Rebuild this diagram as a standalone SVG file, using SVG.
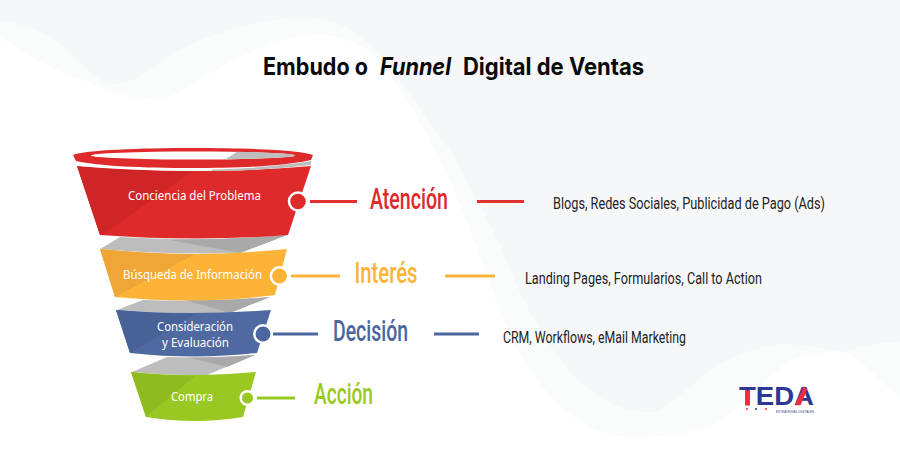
<svg xmlns="http://www.w3.org/2000/svg" width="900" height="450" viewBox="0 0 900 450">
<style>
.st{font-family:"Noto Sans","Open Sans",sans-serif;fill:#fff;font-size:12px}
.hd{font-family:"Roboto","Liberation Sans",sans-serif;font-weight:500;font-size:29px}
.ds{font-family:"Roboto","Liberation Sans",sans-serif;font-size:16px;fill:#222}
.tt{font-family:"Inter","Noto Sans",sans-serif;font-size:24px;font-weight:700;fill:#0a0a0a}
.gr{fill:#bdbdbd}.gd{fill:#a9a9a9}
.ln{stroke-width:3;fill:none}
.ring{stroke:#fff;stroke-width:2.500}
</style>
<rect width="900" height="450" fill="#f6f7f9"/>
<path fill="#fafbfb" d="M0 22C25 22 50 35 67 50C85 68 100 84 117 84C135 84 150 68 167 57C190 42 250 18 300 18C330 18 350 25 367 42C390 62 420 110 450 150C470 185 490 225 500 245C515 285 530 315 550 345C575 385 610 412 650 412C670 412 700 370 733 358C750 350 770 344 783 344C805 344 825 350 843 352C860 346 880 342 900 342V450H0Z"/>
<path fill="#fff" d="M0 37C20 50 50 70 83 80C110 92 130 99 150 99C170 99 185 90 200 80C225 62 280 35 317 35C340 35 355 42 367 50C390 65 420 120 450 180C460 205 468 225 478 250C490 285 510 345 533 375C560 410 590 437 633 437C670 437 700 432 717 422C745 405 765 380 783 365C800 355 825 350 843 352C865 362 880 380 900 398V450H0Z"/>
<g id="title">
<text class="tt" x="263" y="75" textLength="105" lengthAdjust="spacingAndGlyphs">Embudo o</text>
<text class="tt" x="380" y="75" font-style="italic" font-weight="600" textLength="71" lengthAdjust="spacingAndGlyphs">Funnel</text>
<text class="tt" x="463" y="75" textLength="181" lengthAdjust="spacingAndGlyphs">Digital de Ventas</text>
</g>
<g id="connectors">
<path class="ln" stroke="#e1302f" d="M310 201.500H357M477 201.500H524"/>
<path class="ln" stroke="#fdb338" d="M291 276H340M445 276H495"/>
<path class="ln" stroke="#4c669f" d="M273 334H318M434 334H479"/>
<path class="ln" stroke="#9ac823" d="M257 398H295"/>
</g>
<g id="bands">
<path class="gr" d="M100 249L120 237Q200 242 287 235L240 253Q170 255 100 249Z"/>
<path class="gd" d="M170 240Q230 240 287 235L240 253Z"/>
<path class="gr" d="M117 310L143 300Q210 302 270 297L230 313Q170 314 117 310Z"/>
<path class="gd" d="M185 300Q230 301 270 297L230 313Z"/>
<path class="gr" d="M132 372L167 357Q210 358 255 355L207 375Q170 376 132 372Z"/>
<path class="gd" d="M190 358Q225 358 255 355L227 367Z"/>
</g>
<g id="atencion">
<path d="M77 166Q200 176 311 166L288 235Q200 242 100 235Z" fill="#de2a2a"/>
<path d="M77 166Q140 171 193 171L102 235L100 235Z" fill="#cf2526"/>
<path d="M76 162Q190 172 311 161V165Q190 176 77 166Z" fill="#fff"/>
<path d="M212 169.500Q270 168 311 161V165Q265 170.500 212 171Z" class="gr"/>
<path d="M73 155C85 150 140 148 193 148C250 148 300 150 313 155L311 160C280 167 230 168 193 168C140 168 100 166 76 161Z" fill="#de2a2a"/>
<ellipse cx="193" cy="155.500" rx="102" ry="4" fill="#fff"/>
<path d="M237 151.800Q295 153 295 155.500Q295 158 225 159.400Z" class="gr"/>
<circle cx="298" cy="201.500" r="9" fill="#de2a2a" class="ring"/>
<text x="128" y="200" class="st" textLength="133" lengthAdjust="spacingAndGlyphs">Conciencia del Problema</text>
<text x="370" y="209" class="hd" fill="#de2a2a" textLength="78" lengthAdjust="spacingAndGlyphs">Atención</text>
<text x="553" y="209" class="ds" textLength="272" lengthAdjust="spacingAndGlyphs">Blogs, Redes Sociales, Publicidad de Pago (Ads)</text>
</g>
<g id="interes">
<path d="M100 249Q190 259 287 249L275 295Q200 305 115 297Z" fill="#fdb338"/>
<path d="M100 249Q150 254 195 254L115 297Z" fill="#efa637"/>
<circle cx="279.500" cy="276" r="8.700" fill="#fdb338" class="ring"/>
<text x="123" y="279" class="st" textLength="139" lengthAdjust="spacingAndGlyphs">Búsqueda de Información</text>
<text x="354.500" y="283" class="hd" fill="#fdb338" textLength="63" lengthAdjust="spacingAndGlyphs">Interés</text>
<text x="525" y="284" class="ds" textLength="237" lengthAdjust="spacingAndGlyphs">Landing Pages, Formularios, Call to Action</text>
</g>
<g id="decision">
<path d="M116 310Q190 316 271 310L257 353Q195 360 130 353Z" fill="#4f69a1"/>
<path d="M116 310Q160 314 195 314L130 353Z" fill="#486197"/>
<circle cx="263" cy="334" r="8.700" fill="#4c669f" class="ring"/>
<text x="157" y="331" class="st" textLength="76" lengthAdjust="spacingAndGlyphs">Consideración</text>
<text x="162" y="347" class="st" textLength="67" lengthAdjust="spacingAndGlyphs">y Evaluación</text>
<text x="333" y="341" class="hd" fill="#4c669f" textLength="75" lengthAdjust="spacingAndGlyphs">Decisión</text>
<text x="503" y="343" class="ds" textLength="183" lengthAdjust="spacingAndGlyphs">CRM, Workflows, eMail Marketing</text>
</g>
<g id="accion">
<path d="M131 372Q190 378 256 372L243 417Q195 425 146 417Z" fill="#9ac823"/>
<path d="M131 372Q165 376 195 376L146 417Z" fill="#8fbb20"/>
<circle cx="247.500" cy="398" r="6.800" fill="#9ac823" class="ring"/>
<text x="171" y="401" class="st" textLength="42" lengthAdjust="spacingAndGlyphs">Compra</text>
<text x="314" y="404" class="hd" fill="#9ac823" textLength="59" lengthAdjust="spacingAndGlyphs">Acción</text>
</g>
<g id="logo">
<text x="739" y="405" font-family="'Liberation Sans',sans-serif" font-weight="700" font-size="26.500" fill="#2b3990" textLength="75" lengthAdjust="spacingAndGlyphs">TEDA</text>
<rect x="745" y="390.500" width="5" height="15" fill="#ee2d3f"/>
<path d="M795 405.200H800.500L807 390L804 386Z" fill="#ee2d3f"/>
<circle cx="747" cy="409" r="1" fill="#ee2d3f"/><circle cx="756" cy="409" r="1" fill="#2b3990"/><circle cx="766" cy="409" r="1" fill="#ee2d3f"/>
<text x="776" y="413" font-family="'Liberation Sans',sans-serif" font-size="3.500" fill="#3a4680" textLength="38" lengthAdjust="spacingAndGlyphs">ESTRATEGIAS DIGITALES</text>
</g>
</svg>
